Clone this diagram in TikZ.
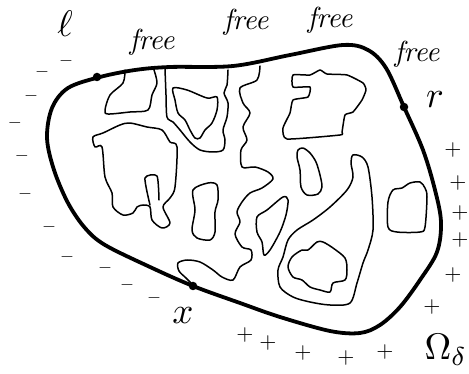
\documentclass[tikz,border=0pt]{standalone}
\begin{document}
\begin{tikzpicture}[x=1pt,y=-1pt,
  bound/.style={line width=3.8pt, line join=round},
  blob/.style={line width=1.5pt, line join=round, line cap=round},
  lab/.style={inner sep=0pt, scale=3.7},
  freelab/.style={inner sep=0pt, scale=2.9, font=\itshape},
  minussign/.style={inner sep=0pt, scale=1.8},
  plussign/.style={inner sep=0pt, scale=2.2},
  dotpt/.style={circle, fill, inner sep=0pt, minimum size=8.5pt}]
\useasboundingbox (0,0) rectangle (469,374);
% outer boundary
\draw[bound] plot[smooth cycle, tension=0.55] coordinates {(100,77) (135,70) (170,67) (233,66) (290,55) (343,45) (368,50) (386,68) (404,107) (423,150) (435,190) (441,222) (437,252) (420,280) (400,307) (380,325) (360,333) (330,331) (280,317) (240,303) (193,286) (150,267) (105,245) (85,228) (68,203) (54,170) (47,138) (52,108) (68,88)};
% A
\draw[blob] plot[smooth, tension=0.5] coordinates {(125,70) (123,83) (110,95) (105,110) (108,114) (130,112) (148,110) (152,95) (157,83) (154,70)};
% B
\draw[blob] plot[smooth, tension=0.5] coordinates {(165,69) (166,95) (167,117) (173,122) (180,130) (190,142) (200,150) (213,152) (223,150) (225,140) (223,130) (227,117) (228,103) (224,93) (227,85) (228,70)};
% C
\draw[blob] plot[smooth cycle, tension=0.5] coordinates {(173,88) (187,90) (207,98) (217,97) (217,110) (212,123) (205,130) (200,138) (195,138) (190,130) (185,120) (178,113) (175,100)};
% D
\draw[blob] plot[smooth, tension=0.5] coordinates {(260,66) (257,80) (240,88) (243,103) (250,113) (243,127) (247,140) (241,150) (242,167) (255,167) (268,172) (273,179) (262,188) (250,193) (242,202) (237,212) (240,222) (235,234) (242,247) (251,250) (251,260) (240,267) (233,280) (222,277) (213,270) (200,262) (187,260) (178,263) (179,271) (186,278) (193,285)};
% F
\draw[blob] plot[smooth cycle, tension=0.5] coordinates {(93,137) (95,147) (102,147) (105,177) (112,193) (113,207) (123,215) (133,213) (137,207) (143,205) (150,207) (152,220) (162,228) (170,223) (163,207) (170,198) (175,187) (177,147) (170,142) (162,130) (147,127) (130,123) (120,125) (103,133)};
\draw[blob] plot[smooth, tension=0.4] coordinates {(150,205) (145,178) (157,176) (159,200)};
% G
\draw[blob] plot[smooth cycle, tension=0.5] coordinates {(193,190) (208,183) (217,185) (218,200) (215,212) (215,232) (210,240) (197,238) (192,230) (195,210)};
% H
\draw[blob] plot[smooth cycle, tension=0.5] coordinates {(257,217) (267,210) (283,197) (288,200) (286,215) (280,232) (270,250) (264,255) (262,242) (257,232)};
% I
\draw[blob] plot[smooth cycle, tension=0.3] coordinates {(293,75) (310,75) (320,70) (327,74) (347,75) (363,83) (366,90) (362,100) (353,112) (345,115) (342,132) (340,135) (287,139) (283,128) (290,113) (293,100) (308,97) (310,87) (293,87)};
% J
\draw[blob] plot[smooth cycle, tension=0.5] coordinates {(298,150) (303,148) (310,153) (316,162) (320,175) (322,187) (318,194) (307,195) (301,187) (300,170) (297,157)};
% K
\draw[blob] plot[smooth cycle, tension=0.5] coordinates {(353,155) (362,157) (368,167) (372,197) (373,230) (368,250) (363,263) (357,283) (350,303) (330,305) (310,302) (293,297) (280,287) (278,270) (283,257) (288,240) (297,230) (313,220) (330,207) (347,190) (353,177) (351,163)};
% L
\draw[blob] plot[smooth cycle, tension=0.5] coordinates {(288,267) (292,257) (302,250) (308,250) (317,242) (323,242) (333,248) (345,258) (347,270) (345,280) (333,283) (330,292) (320,290) (310,287) (302,280) (293,277)};
% M
\draw[blob] plot[smooth cycle, tension=0.5] coordinates {(393,190) (402,188) (410,183) (420,182) (425,188) (427,197) (425,227) (420,232) (397,232) (388,227) (388,202)};
% points
\node[dotpt] (pl) at (97,77) {};
\node[dotpt] (pr) at (404,107) {};
\node[dotpt] (px) at (193,286) {};
% labels
\node[lab] (ell) at (65,24) {$\ell$};
\node[lab] (rlab) at (435,100) {$r$};
\node[lab] (xlab) at (183,316) {$x$};
\node[lab] (omega) at (446,350) {$\Omega_\delta$};
\node[freelab] (f1) at (152,42) {free};
\node[freelab] (f2) at (246,22) {free};
\node[freelab] (f3) at (330,20) {free};
\node[freelab] (f4) at (417,54) {free};
% signs
\foreach \mx/\my [count=\i] in {66/61,42/72,31/96,15/123,22/156,25/194,49/227,67/257,105/268,127/285,154/298}
  \node[minussign] (m\i) at (\mx,\my) {$-$};
\foreach \mx/\my [count=\i] in {453/150,458/183,460/213,460/240,453/275,432/307,385/352,346/358,303/353,268/343,245/335}
  \node[plussign] (p\i) at (\mx,\my) {$+$};
\end{tikzpicture}
\end{document}
